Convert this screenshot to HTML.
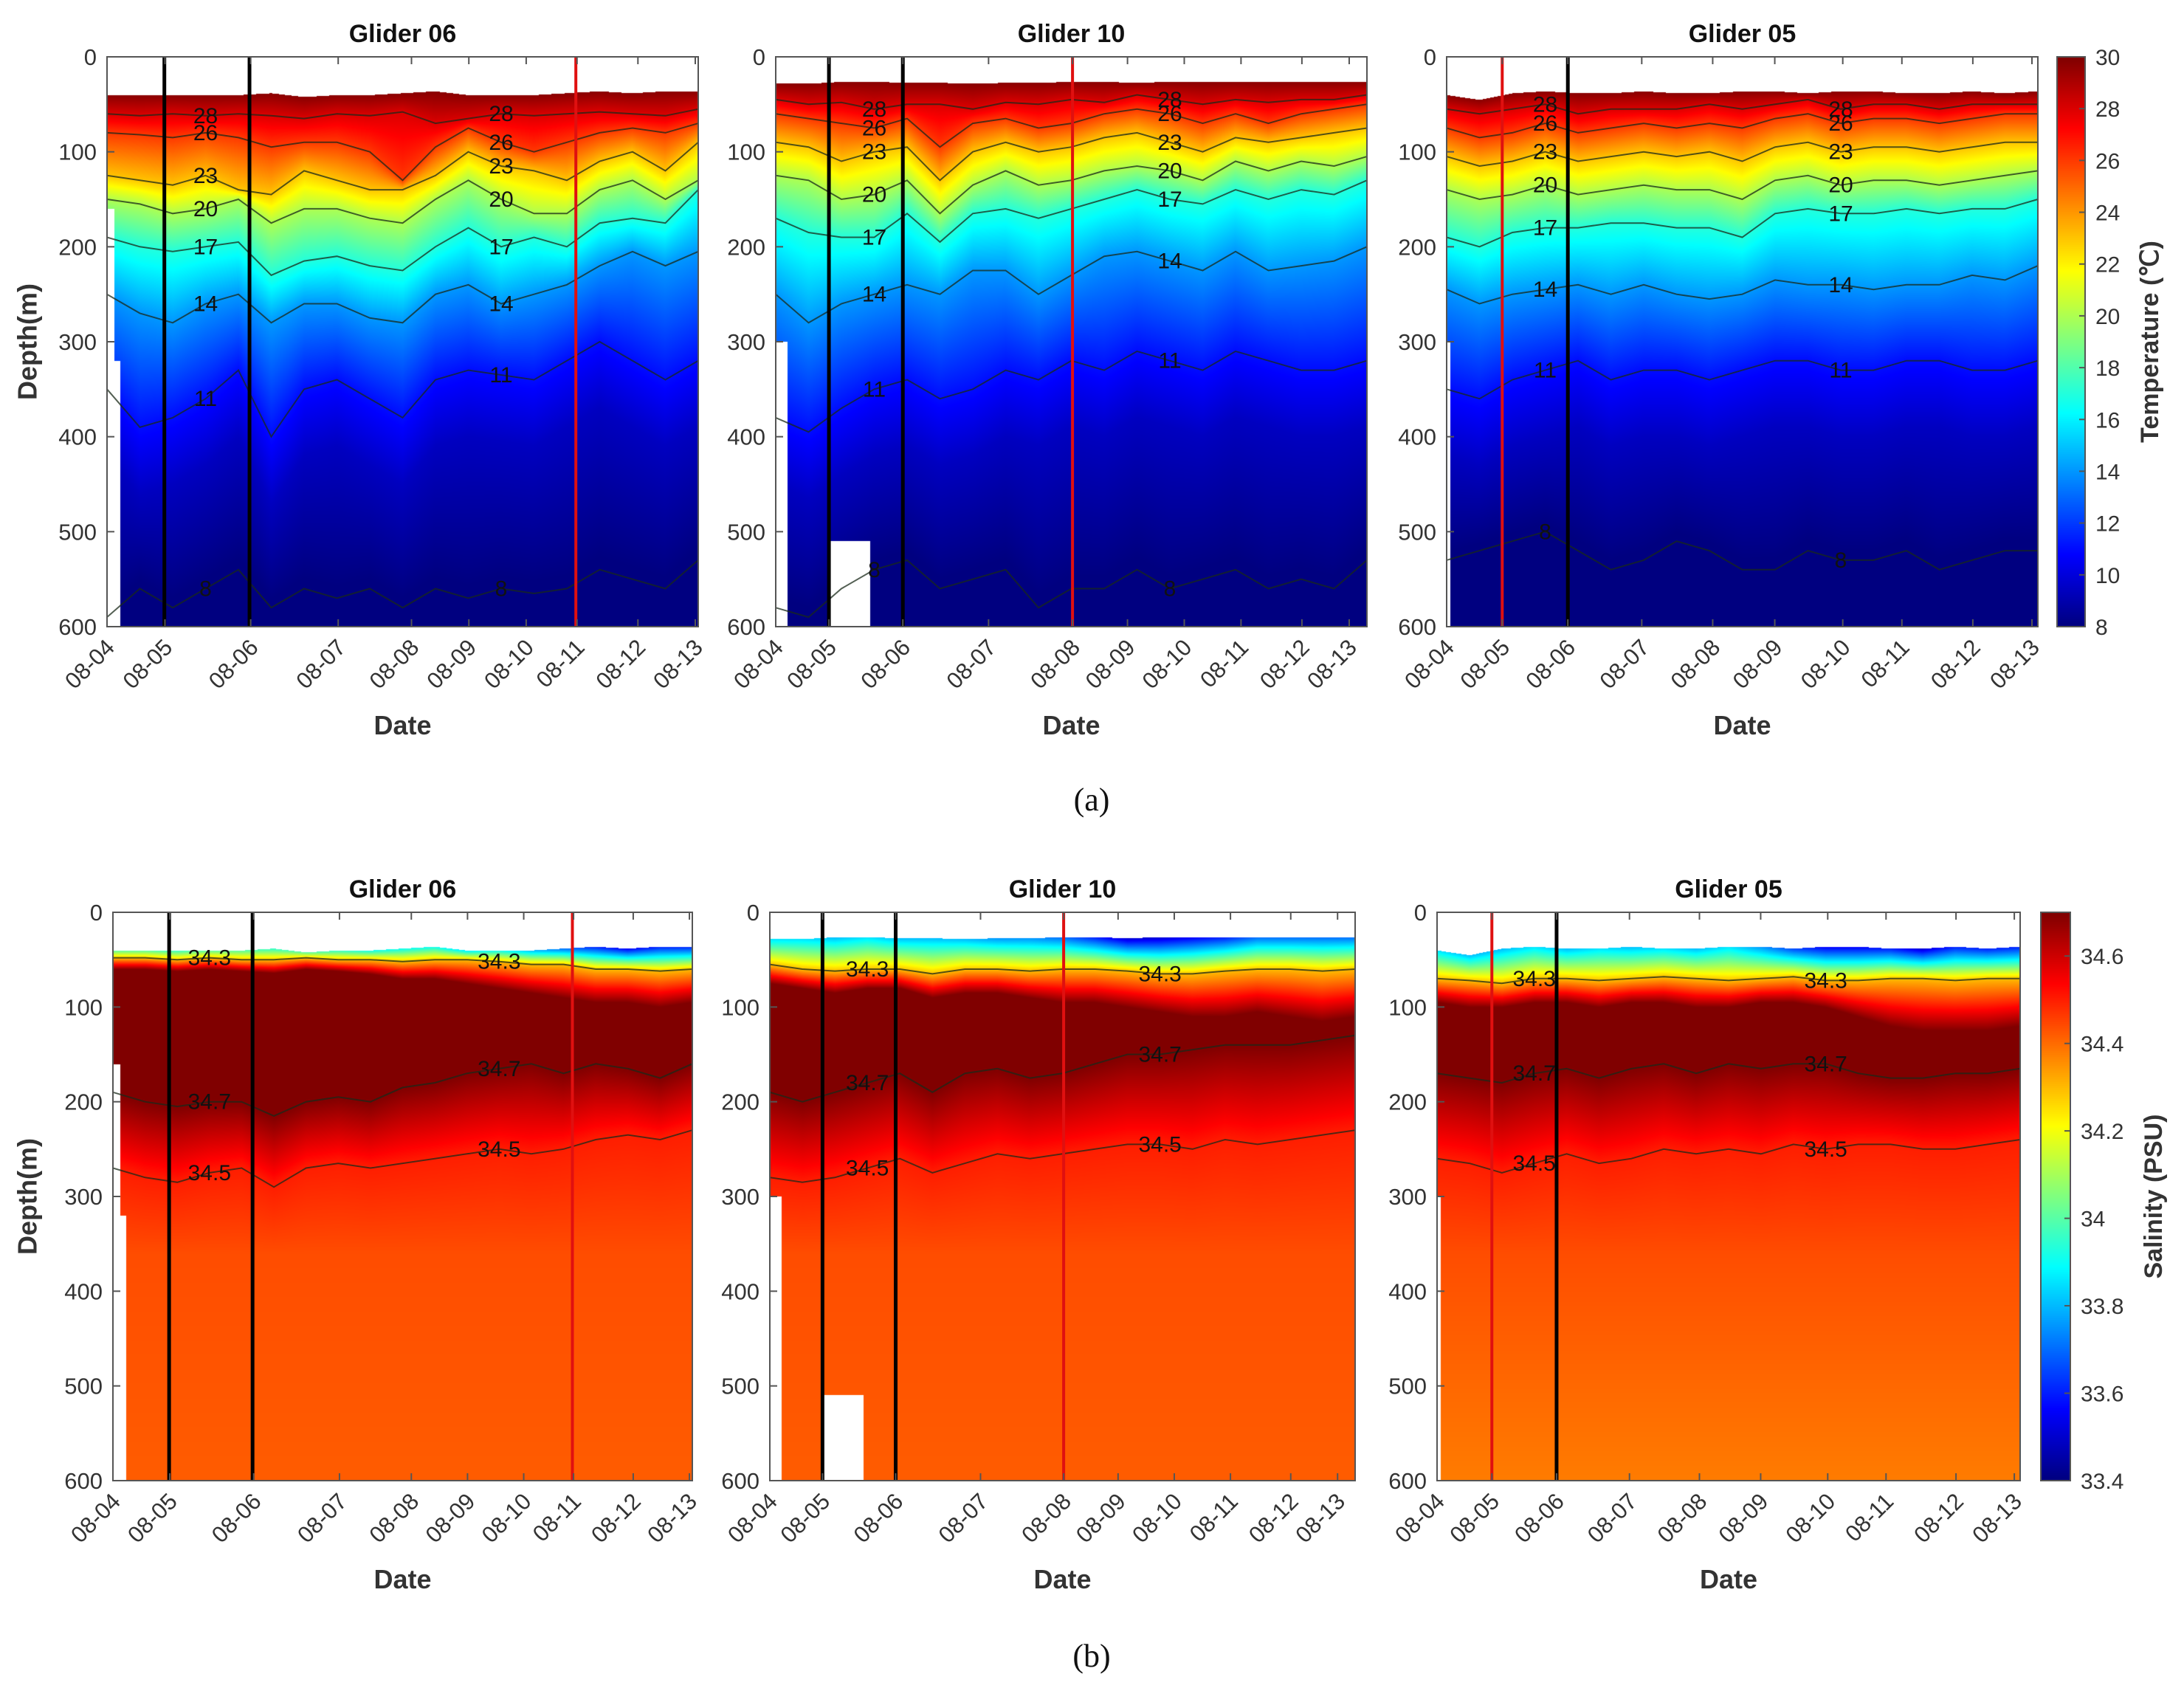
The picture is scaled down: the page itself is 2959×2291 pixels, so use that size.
<!DOCTYPE html>
<html><head><meta charset="utf-8">
<style>
html,body{margin:0;padding:0;background:#fff;}
#root{position:relative;width:2959px;height:2291px;overflow:hidden;font-family:"Liberation Sans",sans-serif;}
canvas{position:absolute;}
svg{position:absolute;left:0;top:0;}
</style></head>
<body>
<div id="root">
<svg id="ov" width="2959" height="2291"></svg>
</div>
<script>
// ---------- data ----------
const gliderNames = ["Glider 06","Glider 10","Glider 05"];
const dateTicks = ["08-04","08-05","08-06","08-07","08-08","08-09","08-10","08-11","08-12","08-13"];
const tickFrac06 = [0,0.098,0.243,0.391,0.515,0.612,0.709,0.795,0.898,0.995];
const tickFrac10 = [0,0.09,0.215,0.36,0.502,0.595,0.691,0.787,0.89,0.97];
const tickFrac05 = [0,0.094,0.205,0.33,0.45,0.555,0.67,0.77,0.89,0.99];
const depthTicks = [0,100,200,300,400,500,600];
const tempTicks = [8,10,12,14,16,18,20,22,24,26,28,30];
const salTicks = [33.4,33.6,33.8,34,34.2,34.4,34.6];
const tempLevels = [28,26,23,20,17,14,11,8];
const blackLines06 = [0.097,0.241], redLines06 = [0.793];
const blackLines10 = [0.09,0.215], redLines10 = [0.502];
const blackLines05 = [0.205], redLines05 = [0.094];
const gaps06 = [[0,0.012,160],[0.012,0.022,320]];
const gaps10 = [[0,0.02,300],[0.09,0.16,510]];
const gaps05 = [[0,0.006,300]];
const top06 = [40,40,40,40,40,38,42,40,40,38,36,40,40,40,38,36,38,36,36];
const top10 = [28,28,26,26,27,27,28,27,27,26,26,27,26,26,26,26,26,26,26];
const top05 = [40,45,38,36,38,38,36,38,38,36,36,38,36,36,38,38,36,38,36];
const t06_28=[60,62,60,62,60,62,65,60,62,58,70,65,60,62,60,58,60,62,55];
const t06_26=[80,82,85,80,85,95,90,90,100,130,95,75,90,100,90,80,75,80,70];
const t06_23=[125,130,135,125,140,145,120,130,140,140,125,100,115,120,130,110,100,120,90];
const t06_20=[150,155,165,160,150,175,160,160,170,175,150,130,150,165,165,140,130,150,130];
const t06_17=[190,200,205,200,195,230,215,210,220,225,200,180,200,190,200,175,170,175,140];
const t06_14=[250,270,280,260,250,280,260,260,275,280,250,240,260,250,240,220,205,220,205];
const t06_11=[350,390,380,360,330,400,350,340,360,380,340,330,335,340,320,300,320,340,320];
const t06_8 =[590,560,580,560,540,580,560,570,560,580,560,570,560,565,560,540,550,560,530];
const t10_28=[45,50,48,55,50,50,55,48,50,45,48,40,45,50,45,48,45,45,40];
const t10_26=[60,65,70,75,65,95,70,65,75,70,60,55,60,70,60,70,60,55,50];
const t10_23=[90,95,110,100,95,130,100,90,100,95,85,80,90,100,85,90,85,80,75];
const t10_20=[125,130,150,145,130,165,135,120,135,130,120,115,120,130,110,120,110,115,105];
const t10_17=[170,185,190,190,165,195,165,160,170,160,150,140,150,155,140,150,140,145,130];
const t10_14=[250,280,260,250,240,250,225,225,250,230,210,205,215,225,205,225,220,215,200];
const t10_11=[380,395,370,350,340,360,350,330,340,320,330,310,320,330,310,320,330,330,320];
const t10_8 =[580,590,560,540,530,560,550,540,580,560,560,540,560,550,540,560,550,560,530];
const t05_28=[55,60,55,50,60,55,55,55,50,55,50,45,55,50,50,55,50,50,50];
const t05_26=[75,85,80,70,80,75,70,75,70,75,65,60,70,65,65,70,65,60,60];
const t05_23=[105,115,110,100,110,105,100,105,100,110,95,90,100,95,95,100,95,90,90];
const t05_20=[140,150,145,135,145,140,135,140,140,150,130,125,135,130,130,135,130,125,120];
const t05_17=[190,200,185,180,180,175,175,180,180,190,165,160,165,165,160,165,160,160,150];
const t05_14=[245,260,250,245,240,250,240,250,255,250,235,240,240,245,240,240,230,235,220];
const t05_11=[350,360,340,330,320,340,330,330,340,330,320,320,330,330,320,320,330,330,320];
const t05_8 =[530,520,510,500,520,540,530,510,520,540,540,520,530,530,520,540,530,520,520];
const s06_surf=[34.0,34.0,33.95,34.0,34.0,33.95,34.0,33.95,33.9,33.9,33.9,33.85,33.9,33.8,33.7,33.6,33.55,33.6,33.6];
const s06_h1=[48,48,50,48,50,50,48,50,50,52,50,50,52,55,55,60,60,62,60];
const s06_h2=[60,60,62,60,62,64,60,62,65,70,70,75,80,85,90,95,95,100,95];
const s06_h3=[190,200,205,200,200,215,200,195,200,185,180,170,165,160,170,160,165,175,160];
const s06_h4=[270,280,285,275,270,290,270,265,270,265,260,255,250,255,250,240,235,240,230];
const s10_surf=[33.85,33.85,33.8,33.85,33.8,33.8,33.8,33.75,33.75,33.7,33.6,33.5,33.5,33.55,33.6,33.7,33.7,33.7,33.7];
const s10_h1=[55,60,62,60,60,65,60,60,62,60,60,62,65,65,62,60,60,62,60];
const s10_h2=[75,80,85,80,80,90,85,85,90,95,95,100,105,110,110,105,110,115,110];
const s10_h3=[190,200,190,180,170,190,170,165,175,170,160,150,150,145,140,140,140,135,130];
const s10_h4=[280,285,280,270,260,275,265,255,260,255,250,245,245,250,240,245,240,235,230];
const s05_surf=[33.85,33.8,33.8,33.85,33.8,33.85,33.8,33.85,33.8,33.85,33.75,33.65,33.55,33.55,33.6,33.5,33.6,33.6,33.6];
const s05_h1=[70,72,75,70,70,72,70,68,70,72,70,68,72,72,70,70,72,70,70];
const s05_h2=[95,100,100,95,95,100,95,95,100,100,95,95,100,110,120,125,125,125,120];
const s05_h3=[170,175,180,170,165,175,165,160,170,160,165,160,160,170,175,175,170,170,165];
const s05_h4=[260,265,275,265,255,265,260,250,255,250,255,245,250,245,245,250,250,245,240];
const deepSal = [34.42,34.42,34.38];

// ---------- layout ----------
const panelsA = {y0:77,y1:849,xs:[[145,946],[1051,1852],[1960,2761]],cb:[2787,2825]};
const panelsB = {y0:1236,y1:2006,xs:[[153,938],[1043,1836],[1947,2737]],cb:[2765,2805]};
const G = [
 {ticks:tickFrac06,black:blackLines06,red:redLines06,gaps:gaps06,top:top06,
  t:[t06_28,t06_26,t06_23,t06_20,t06_17,t06_14,t06_11,t06_8],
  s:{surf:s06_surf,h1:s06_h1,h2:s06_h2,h3:s06_h3,h4:s06_h4,deep:deepSal[0]}},
 {ticks:tickFrac10,black:blackLines10,red:redLines10,gaps:gaps10,top:top10,
  t:[t10_28,t10_26,t10_23,t10_20,t10_17,t10_14,t10_11,t10_8],
  s:{surf:s10_surf,h1:s10_h1,h2:s10_h2,h3:s10_h3,h4:s10_h4,deep:deepSal[1]}},
 {ticks:tickFrac05,black:blackLines05,red:redLines05,gaps:gaps05,top:top05,
  t:[t05_28,t05_26,t05_23,t05_20,t05_17,t05_14,t05_11,t05_8],
  s:{surf:s05_surf,h1:s05_h1,h2:s05_h2,h3:s05_h3,h4:s05_h4,deep:deepSal[2]}}
];

function sample(arr,f){const p=f*(arr.length-1);const i=Math.min(arr.length-2,Math.floor(p));const r=p-i;return arr[i]*(1-r)+arr[i+1]*r;}
function jet(t){t=Math.max(0,Math.min(1,t));const c=v=>Math.round(255*Math.max(0,Math.min(1,v)));
 return [c(1.5-Math.abs(4*t-3)),c(1.5-Math.abs(4*t-2)),c(1.5-Math.abs(4*t-1))];}
function interpProfile(pts,z){
 if(z<=pts[0][0])return pts[0][1];
 for(let k=0;k<pts.length-1;k++){const a=pts[k],b=pts[k+1];
  if(z<=b[0]){const r=(b[0]<=a[0])?1:(z-a[0])/(b[0]-a[0]);return a[1]*(1-r)+b[1]*r;}}
 return pts[pts.length-1][1];}
function inGap(g,f,z){for(const q of g.gaps){if(f>=q[0]&&f<q[1]&&z>=q[2])return true;}return false;}

const root=document.getElementById('root');
const ov=document.getElementById('ov');
const NS="http://www.w3.org/2000/svg";
function el(tag,attrs,parent){const e=document.createElementNS(NS,tag);for(const k in attrs)e.setAttribute(k,attrs[k]);(parent||ov).appendChild(e);return e;}

function drawField(P,gi,kind){
 const g=G[gi];const [x0,x1]=P.xs[gi];const W=x1-x0,H=P.y1-P.y0;
 const cv=document.createElement('canvas');cv.width=W;cv.height=H;
 cv.style.left=x0+'px';cv.style.top=P.y0+'px';
 
 
 root.insertBefore(cv,ov);
 const ctx=cv.getContext('2d');const img=ctx.createImageData(W,H);const d=img.data;
 for(let px=0;px<W;px++){
  const f=px/(W-1);const top=sample(g.top,f);let pts;
  if(kind==='t'){pts=[[top,29.8]];const lv=[28,26,23,20,17,14,11];
   for(let k=0;k<lv.length;k++)pts.push([sample(g.t[k],f),lv[k]]);
   const d11=sample(g.t[6],f);pts.push([d11+70,9.4]);pts.push([Math.max(d11+71,sample(g.t[7],f)),7.9]);pts.push([600,7.6]);}
  else{const s=g.s;pts=[[top,sample(s.surf,f)],[sample(s.h1,f),34.3],[sample(s.h2,f),34.7],[sample(s.h3,f),34.7],[sample(s.h4,f),34.5],[360,34.44],[600,s.deep]];}
  for(let py=0;py<H;py++){
   const z=py/(H-1)*600;const o=(py*W+px)*4;
   if(z<top||inGap(g,f,z)){d[o]=d[o+1]=d[o+2]=255;d[o+3]=255;continue;}
   const v=interpProfile(pts,z);
   const t=kind==='t'?(v-8)/22:(v-33.4)/1.3;const c=jet(t);
   d[o]=c[0];d[o+1]=c[1];d[o+2]=c[2];d[o+3]=255;}
 }
 ctx.putImageData(img,0,0);
 const X=f=>x0+f*W, Y=z=>P.y0+z/600*H;
 const lines = kind==='t' ? tempLevels.map((lv,k)=>({lv:String(lv),arr:g.t[k]}))
   : [{lv:'34.5',arr:g.s.h4},{lv:'34.7',arr:g.s.h3},{lv:'34.3',arr:g.s.h1}];
 lines.forEach((L,k)=>{
  let dstr='';for(let i=0;i<L.arr.length;i++){dstr+=(i?'L':'M')+X(i/(L.arr.length-1)).toFixed(1)+','+Y(L.arr[i]).toFixed(1);}
  const p=el('path',{d:dstr,fill:'none',stroke:'#1a2a1a','stroke-width':2,opacity:0.75});
  
  
  [3,12].forEach(i=>{const tx=el('text',{x:X(i/(L.arr.length-1)),y:Y(L.arr[i])+10,'font-size':30,fill:'#111','text-anchor':'middle'});
   tx.textContent=L.lv;
   
   });
 });
 g.black.forEach(f=>{const l=el('line',{x1:X(f),x2:X(f),y1:P.y0,y2:P.y1,stroke:'#000','stroke-width':5});
  });
 g.red.forEach(f=>{const l=el('line',{x1:X(f),x2:X(f),y1:P.y0,y2:P.y1,stroke:'#e01010','stroke-width':4});
  });
 const fr=el('rect',{x:x0,y:P.y0,width:W,height:H,fill:'none',stroke:'#555','stroke-width':2});
 
 depthTicks.forEach(v=>{const t=el('text',{x:x0-14,y:Y(v)+11,'font-size':31,fill:'#333','text-anchor':'end'});t.textContent=v;
  
  el('line',{x1:x0,x2:x0+10,y1:Y(v),y2:Y(v),stroke:'#555','stroke-width':2});});
 g.ticks.forEach((f,i)=>{const x=X(f);
  el('line',{x1:x,x2:x,y1:P.y0,y2:P.y0+10,stroke:'#555','stroke-width':2});
  el('line',{x1:x,x2:x,y1:P.y1,y2:P.y1-10,stroke:'#555','stroke-width':2});
  const t=el('text',{x:x+12,y:P.y1+30,'font-size':31,fill:'#333','text-anchor':'end',transform:`rotate(-45 ${x+12} ${P.y1+30})`});
  t.textContent=dateTicks[i];
  });
 const tt=el('text',{x:(x0+x1)/2,y:P.y0-20,'font-size':34,'font-weight':'bold',fill:'#111','text-anchor':'middle'});
 tt.textContent=gliderNames[gi];
 const dl=el('text',{x:(x0+x1)/2,y:P.y1+146,'font-size':36,'font-weight':'bold',fill:'#333','text-anchor':'middle'});
 dl.textContent='Date';
}

function drawColorbar(P,kind){
 const [x0,x1]=P.cb;const W=x1-x0,H=P.y1-P.y0;
 const cv=document.createElement('canvas');cv.width=W;cv.height=H;cv.style.left=x0+'px';cv.style.top=P.y0+'px';
 
 root.insertBefore(cv,ov);const ctx=cv.getContext('2d');
 for(let py=0;py<H;py++){const c=jet(1-py/(H-1));ctx.fillStyle=`rgb(${c[0]},${c[1]},${c[2]})`;ctx.fillRect(0,py,W,1);}
 el('rect',{x:x0,y:P.y0,width:W,height:H,fill:'none',stroke:'#555','stroke-width':2});
 const ticks=kind==='t'?tempTicks:salTicks;const lo=kind==='t'?8:33.4,hi=kind==='t'?30:34.7;
 ticks.forEach(v=>{const y=P.y1-(v-lo)/(hi-lo)*H;
  el('line',{x1:x1-8,x2:x1,y1:y,y2:y,stroke:'#555','stroke-width':2});
  const t=el('text',{x:x1+14,y:y+11,'font-size':30,fill:'#333'});t.textContent=(kind==='t'?v:(Math.round(v*10)/10));
  });
 const cx=kind==='t'?2915:2920,cy=(P.y0+P.y1)/2;
 const t=el('text',{x:cx,y:cy,'font-size':34,'font-weight':'bold',fill:'#333','text-anchor':'middle',transform:`rotate(-90 ${cx} ${cy})`,'dominant-baseline':'middle'});
 t.textContent=kind==='t'?'Temperature (℃)':'Salinity (PSU)';
 
}

[0,1,2].forEach(i=>{drawField(panelsA,i,'t');drawField(panelsB,i,'s');});
drawColorbar(panelsA,'t');drawColorbar(panelsB,'s');
[[panelsA,'a'],[panelsB,'b']].forEach(([P,n])=>{
 const cy=(P.y0+P.y1)/2;
 const t=el('text',{x:40,y:cy,'font-size':36,'font-weight':'bold',fill:'#333','text-anchor':'middle',transform:`rotate(-90 40 ${cy})`,'dominant-baseline':'middle'});
 t.textContent='Depth(m)';
 const c=el('text',{x:1479,y:n==='a'?1098:2258,'font-size':44,fill:'#111','text-anchor':'middle','font-family':'Liberation Serif, serif'});
 c.textContent='('+n+')';
});
</script>
</body></html>
